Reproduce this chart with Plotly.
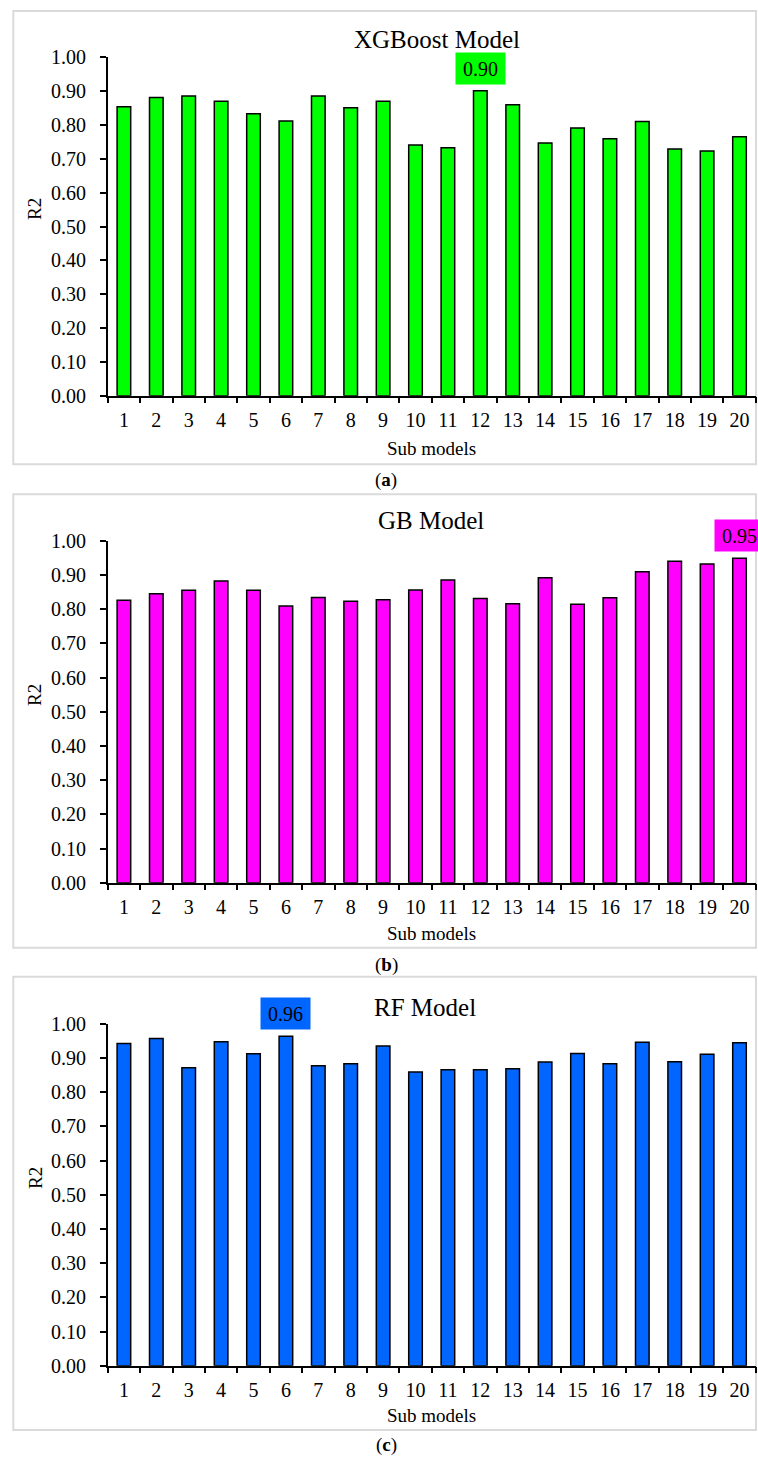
import plotly.graph_objects as go

W, H = 758, 1457

sub_models = [str(i) for i in range(1, 21)]

xgb_r2 = [0.854, 0.881, 0.886, 0.870, 0.833, 0.812, 0.886, 0.851, 0.870, 0.741,
          0.733, 0.901, 0.860, 0.747, 0.791, 0.759, 0.810, 0.729, 0.723, 0.765]
gb_r2 = [0.826, 0.845, 0.855, 0.882, 0.855, 0.809, 0.834, 0.823, 0.827, 0.856,
         0.885, 0.831, 0.816, 0.892, 0.814, 0.833, 0.909, 0.940, 0.932, 0.949]
rf_r2 = [0.942, 0.957, 0.871, 0.947, 0.912, 0.963, 0.877, 0.883, 0.935, 0.859,
         0.865, 0.865, 0.868, 0.888, 0.913, 0.883, 0.946, 0.889, 0.911, 0.944]

titles = ["XGBoost Model", "GB Model", "RF Model"]
captions = ["(<b>a</b>)", "(<b>b</b>)", "(<b>c</b>)"]
colors = ["#00FF00", "#FF00FF", "#0066FF"]
y_tick_vals = [round(i * 0.1, 1) for i in range(11)]
y_tick_text = ["%.2f" % v for v in y_tick_vals]
best_index = [11, 19, 5]  # highlighted sub model (0-based position)

series = [xgb_r2, gb_r2, rf_r2]

FONT = "Liberation Serif, Times New Roman, serif"

# pixel layout (top-based)
x_left, x_right = 107.7, 755.7
panels = [
    dict(y_top=57.3, y_bot=395.7, box=(13.3, 11.0, 756.0, 464.3), title_x=437, title_y=39, sub_y=448, r2_y=209, cap_y=480),
    dict(y_top=540.7, y_bot=882.7, box=(13.3, 494.3, 756.0, 947.7), title_x=431, title_y=520, sub_y=933, r2_y=695, cap_y=965),
    dict(y_top=1023.7, y_bot=1365.7, box=(13.3, 976.7, 756.0, 1430.0), title_x=425, title_y=1007, sub_y=1415, r2_y=1178, cap_y=1445),
]

def px_x(v):
    return v / W

def px_y(v):
    return 1 - v / H

fig = go.Figure()
shapes = []
annotations = []

for i, (vals, col, p) in enumerate(zip(series, colors, panels)):
    n = "" if i == 0 else str(i + 1)
    fig.add_trace(go.Bar(
        x=sub_models, y=vals, xaxis="x" + n, yaxis="y" + n,
        marker=dict(color=col, line=dict(color="#000000", width=1.5)),
        showlegend=False, hoverinfo="x+y",
    ))
    fig.layout["xaxis" + n] = dict(
        type="category", domain=[px_x(x_left), px_x(x_right)], anchor="y" + n,
        range=[-0.5, len(sub_models) - 0.5], automargin=False,
        showline=True, linecolor="black", linewidth=1.5,
        ticks="outside", ticklen=6, tickwidth=1.5, tickcolor="black",
        tickson="boundaries", showgrid=False, zeroline=False,
        tickfont=dict(family=FONT, size=20, color="black"),
        ticklabelstandoff=6, fixedrange=True,
    )
    fig.layout["yaxis" + n] = dict(
        domain=[px_y(p["y_bot"]), px_y(p["y_top"])], anchor="x" + n,
        range=[0, 1.0], tickvals=y_tick_vals, ticktext=y_tick_text, automargin=False,
        showline=True, linecolor="black", linewidth=1.5,
        ticks="outside", ticklen=6, tickwidth=1.5, tickcolor="black",
        showgrid=False, zeroline=False,
        tickfont=dict(family=FONT, size=20, color="black"),
        ticklabelstandoff=10, fixedrange=True,
    )
    bx0, by0, bx1, by1 = p["box"]
    shapes.append(dict(type="rect", xref="paper", yref="paper",
                       x0=px_x(bx0), x1=px_x(bx1), y0=px_y(by1), y1=px_y(by0),
                       line=dict(color="#DADADA", width=2), layer="below"))
    annotations.append(dict(text=titles[i], xref="paper", yref="paper",
                            x=px_x(p["title_x"]), y=px_y(p["title_y"]),
                            xanchor="center", yanchor="middle", showarrow=False,
                            font=dict(family=FONT, size=25, color="black")))
    annotations.append(dict(text="Sub models", xref="paper", yref="paper",
                            x=px_x((x_left + x_right) / 2), y=px_y(p["sub_y"]),
                            xanchor="center", yanchor="middle", showarrow=False,
                            font=dict(family=FONT, size=19, color="black")))
    annotations.append(dict(text="R2", xref="paper", yref="paper",
                            x=px_x(35), y=px_y(p["r2_y"]), textangle=-90,
                            xanchor="center", yanchor="middle", showarrow=False,
                            font=dict(family=FONT, size=19, color="black")))
    annotations.append(dict(text=captions[i], xref="paper", yref="paper",
                            x=px_x(386), y=px_y(p["cap_y"]),
                            xanchor="center", yanchor="middle", showarrow=False,
                            font=dict(family=FONT, size=19, color="black")))
    b = best_index[i]
    annotations.append(dict(text="%.2f" % vals[b], xref="x" + n, yref="y" + n,
                            x=b, y=vals[b], yanchor="bottom", yshift=6,
                            showarrow=False, bgcolor=col, borderpad=3,
                            width=43, height=25,
                            font=dict(family=FONT, size=20, color="black")))

fig.update_layout(
    template="none",
    width=W, height=H, margin=dict(l=0, r=0, t=0, b=0, pad=0),
    paper_bgcolor="white", plot_bgcolor="white",
    bargap=0.58, shapes=shapes, annotations=annotations,
    font=dict(family=FONT, color="black"),
)

fig.write_html("out.html")
